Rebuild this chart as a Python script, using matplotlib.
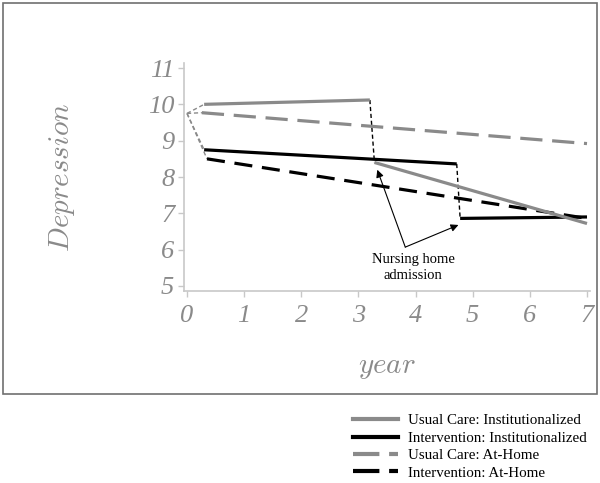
import matplotlib
matplotlib.use("Agg")
import matplotlib.pyplot as plt
from matplotlib.lines import Line2D
from matplotlib.patches import Rectangle

plt.rcParams['mathtext.fontset'] = 'cm'
plt.rcParams['lines.scale_dashes'] = False

# ---- data ----
baseline = (0.0, 9.75)
uc_inst_x1 = [0.3, 3.2]
uc_inst_y1 = [10.0, 10.12]
uc_inst_x2 = [3.28, 7.0]
uc_inst_y2 = [8.4, 6.72]
int_inst_x1 = [0.3, 4.72]
int_inst_y1 = [8.75, 8.36]
int_inst_x2 = [4.78, 7.0]
int_inst_y2 = [6.86, 6.9]
uc_home_x = [0.26, 7.0]
uc_home_y = [9.77, 8.92]
int_home_x = [0.35, 7.0]
int_home_y = [8.5, 6.86]
x_ticks = [0, 1, 2, 3, 4, 5, 6, 7]
y_ticks = [5, 6, 7, 8, 9, 10, 11]
legend_labels = ["Usual Care: Institutionalized", "Intervention: Institutionalized",
                 "Usual Care: At-Home", "Intervention: At-Home"]
annot_text = "Nursing home\nadmission"

GRAY = '#8a8a8a'
TXT = '#8a8a8a'
AX = '#c8c8c8'

fig = plt.figure(figsize=(6.0, 4.83), dpi=100)
ax = fig.add_axes([184/600, 1-291/483, 406/600, 228/483])
ax.set_xlim(-0.0525, 7.0525)
ax.set_ylim(4.862, 11.138)

# connectors from baseline
bx, by = baseline
for (tx, ty) in [(uc_inst_x1[0], uc_inst_y1[0]), (uc_home_x[0], uc_home_y[0]),
                 (int_inst_x1[0], int_inst_y1[0]), (int_home_x[0], int_home_y[0])]:
    ax.plot([bx, tx], [by, ty], color=GRAY, lw=1.0, dashes=(3, 2))

# transitions
ax.plot([uc_inst_x1[1], uc_inst_x2[0]], [uc_inst_y1[1], uc_inst_y2[0]], color='black', lw=1.0, dashes=(3, 2))
ax.plot([int_inst_x1[1], int_inst_x2[0]], [int_inst_y1[1], int_inst_y2[0]], color='black', lw=1.0, dashes=(3, 2))

ax.plot(uc_home_x, uc_home_y, color=GRAY, lw=2.3, dashes=(16, 7))
ax.plot(int_home_x, int_home_y, color='black', lw=2.3, dashes=(13, 7))
ax.plot(int_inst_x1, int_inst_y1, color='black', lw=2.3, solid_capstyle='butt')
ax.plot(int_inst_x2, int_inst_y2, color='black', lw=2.3, solid_capstyle='butt')
ax.plot(uc_inst_x1, uc_inst_y1, color=GRAY, lw=2.3, solid_capstyle='butt')
ax.plot(uc_inst_x2, uc_inst_y2, color=GRAY, lw=2.3, solid_capstyle='butt')

# annotation
tail = (3.82, 6.07)
for head in [(3.33, 8.2), (4.75, 6.68)]:
    ax.annotate("", xy=head, xytext=tail,
                arrowprops=dict(arrowstyle='-|>', color='black', lw=0.8,
                                mutation_scale=11, shrinkA=0, shrinkB=0))
ax.text(3.955, 5.52, annot_text, ha='center', va='center', fontsize=10.5,
        family='Liberation Serif', linespacing=1.3)

# axes style
for s in ['top', 'right']:
    ax.spines[s].set_visible(False)
for s in ['left', 'bottom']:
    ax.spines[s].set_color(AX)
    ax.spines[s].set_linewidth(1.2)
ax.set_xticks(x_ticks)
ax.set_yticks(y_ticks)
ax.set_xticklabels([str(v) for v in x_ticks])
ax.set_yticklabels([str(v) for v in y_ticks])
ax.tick_params(axis='both', colors=AX, length=4, width=1, labelcolor=TXT, labelsize=19)
ax.tick_params(axis='x', pad=6)
ax.tick_params(axis='y', pad=3)
for lab in ax.get_xticklabels() + ax.get_yticklabels():
    lab.set_family('Liberation Serif')
    lab.set_style('italic')
ax.set_xlabel(r'$\mathit{year}$', fontsize=21, color=TXT)
ax.set_ylabel(r'$\mathit{Depression}$', fontsize=21, color=TXT)
ax.xaxis.set_label_coords(0.5, -0.272)
ax.yaxis.set_label_coords(-0.2635, 0.5)

# frame
fig.patches.append(Rectangle((3/600, 1-394/483), 594/600, 391/483, transform=fig.transFigure,
                             fill=False, edgecolor='#707070', lw=1.2))

handles = [Line2D([], [], color=GRAY, lw=3),
           Line2D([], [], color='black', lw=3),
           Line2D([], [], color=GRAY, lw=3, dashes=(19, 7)),
           Line2D([], [], color='black', lw=3, dashes=(19, 7))]
fig.legend(handles, legend_labels, loc='upper left', bbox_to_anchor=(353/600, 1-414/483),
           frameon=False, prop={'family': 'Liberation Serif', 'size': 10.8},
           handlelength=3.0, handletextpad=0.65, labelspacing=0.26, borderaxespad=0, borderpad=0)

fig.savefig('out.png', dpi=100)
